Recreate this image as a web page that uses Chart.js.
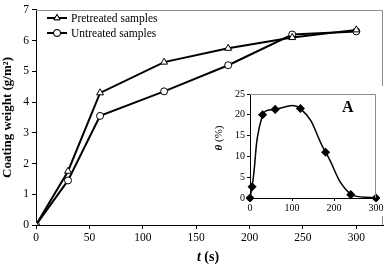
<!DOCTYPE html>
<html>
<head>
<meta charset="utf-8">
<script src="https://cdn.jsdelivr.net/npm/chart.js@4.4.1/dist/chart.umd.min.js"></script>
<style>
  body { margin: 0; background: #fff; }
  #wrap { position: relative; width: 388px; height: 265px; }
  #mainChart { position: absolute; left: 0; top: 0; }
  #insetChart { position: absolute; left: 206px; top: 86px; background: #fff; }
</style>
</head>
<body>
<div id="wrap">
  <canvas id="mainChart" width="388" height="265"></canvas>
  <canvas id="insetChart" width="182" height="130"></canvas>
</div>
<script>
// main chart data
const times = [0, 30, 60, 120, 180, 240, 300];
const pretreated = [0, 1.75, 4.3, 5.3, 5.75, 6.1, 6.35];
const untreated = [0, 1.45, 3.55, 4.35, 5.2, 6.2, 6.3];
const xTicks = [0, 50, 100, 150, 200, 250, 300];
const yTicks = [0, 1, 2, 3, 4, 5, 6, 7];

// inset data (A)
const insetTimes = [0, 5, 30, 60, 120, 180, 240, 300];
const theta = [0, 2.7, 20, 21.3, 21.5, 11, 0.8, 0];
const insetXTicks = [0, 100, 200, 300];
const insetYTicks = [0, 5, 10, 15, 20, 25];

const serif = "'Liberation Serif', 'DejaVu Serif', serif";

function toPoints(xs, ys) {
  return xs.map((x, i) => ({ x: x, y: ys[i] }));
}

// grey frame top/right, black axes left/bottom
const framePlugin = {
  id: 'frame',
  afterDraw(chart) {
    const { ctx, chartArea: a } = chart;
    ctx.save();
    ctx.strokeStyle = '#8c8c8c';
    ctx.lineWidth = 1;
    ctx.beginPath();
    ctx.moveTo(Math.round(a.left), Math.round(a.top) + 0.5);
    ctx.lineTo(Math.round(a.right) - 0.5, Math.round(a.top) + 0.5);
    ctx.lineTo(Math.round(a.right) - 0.5, Math.round(a.bottom));
    ctx.stroke();
    ctx.restore();
  }
};

const mainLegend = {
  id: 'mainLegend',
  afterDraw(chart) {
    const { ctx } = chart;
    ctx.save();
    ctx.font = '11.5px ' + serif;
    ctx.fillStyle = '#000';
    ctx.textBaseline = 'middle';
    const rows = [{ y: 18, ds: chart.data.datasets[0] }, { y: 33, ds: chart.data.datasets[1] }];
    rows.forEach(r => {
      ctx.strokeStyle = '#000';
      ctx.lineWidth = 2;
      ctx.beginPath();
      ctx.moveTo(47, r.y);
      ctx.lineTo(67, r.y);
      ctx.stroke();
      ctx.lineWidth = 1;
      ctx.fillStyle = '#fff';
      Chart.helpers.drawPoint(ctx, { pointStyle: r.ds.pointStyle, radius: 3.5, rotation: 0, borderWidth: 1 }, 57, r.y);
      ctx.fill();
      ctx.stroke();
      ctx.fillStyle = '#000';
      ctx.fillText(r.ds.label, 71, r.y + 0.5);
    });
    // x axis title: italic t + (s)
    ctx.font = 'bold italic 14px ' + serif;
    ctx.textBaseline = 'alphabetic';
    const tW = ctx.measureText('t').width;
    ctx.font = 'bold 14px ' + serif;
    const sW = ctx.measureText(' (s)').width;
    const x0 = 208 - (tW + sW) / 2;
    ctx.font = 'bold italic 14px ' + serif;
    ctx.fillText('t', x0, 261);
    ctx.font = 'bold 14px ' + serif;
    ctx.fillText(' (s)', x0 + tW, 261);
    ctx.restore();
  }
};

const insetDeco = {
  id: 'insetDeco',
  afterDraw(chart) {
    const { ctx } = chart;
    ctx.save();
    ctx.fillStyle = '#000';
    ctx.font = 'bold 16px ' + serif;
    ctx.textBaseline = 'alphabetic';
    ctx.fillText('A', 136, 26);
    // y title: italic theta + (%)
    ctx.translate(13, 52);
    ctx.rotate(-Math.PI / 2);
    ctx.font = 'bold italic 11px ' + serif;
    const thW = ctx.measureText('θ').width;
    ctx.font = '11px ' + serif;
    const pW = ctx.measureText(' (%)').width;
    const x0 = -(thW + pW) / 2;
    ctx.textBaseline = 'middle';
    ctx.font = 'bold italic 11px ' + serif;
    ctx.fillText('θ', x0, 0);
    ctx.font = '11px ' + serif;
    ctx.fillText(' (%)', x0 + thW, 0);
    ctx.restore();
  }
};

function initMainChart(target) {
  return new Chart(target, {
    type: 'line',
    data: {
      datasets: [
        {
          label: 'Pretreated samples',
          data: toPoints(times, pretreated),
          borderColor: '#000',
          borderWidth: 2,
          pointStyle: 'triangle',
          pointRadius: 4,
          pointBorderWidth: 1,
          pointBackgroundColor: '#fff',
          pointBorderColor: '#000',
          tension: 0
        },
        {
          label: 'Untreated samples',
          data: toPoints(times, untreated),
          borderColor: '#000',
          borderWidth: 2,
          pointStyle: 'circle',
          pointRadius: 3.5,
          pointBorderWidth: 1,
          pointBackgroundColor: '#fff',
          pointBorderColor: '#000',
          tension: 0
        }
      ]
    },
    options: {
      responsive: false,
      animation: false,
      layout: { padding: { top: 7, right: 3, left: 0, bottom: 0 } },
      plugins: { legend: { display: false }, tooltip: { enabled: false } },
      scales: {
        x: {
          type: 'linear',
          min: 0,
          max: 325,
          afterBuildTicks: s => { s.ticks = xTicks.map(v => ({ value: v })); },
          afterFit: s => { s.height = 40; },
          grid: { drawOnChartArea: false, tickLength: 4, color: '#000' },
          border: { color: '#000', width: 1 },
          ticks: { color: '#000', font: { family: serif, size: 11.5 }, padding: 2, maxRotation: 0 }
        },
        y: {
          min: 0,
          max: 7,
          afterBuildTicks: s => { s.ticks = yTicks.map(v => ({ value: v })); },
          afterFit: s => { s.width = 36; },
          grid: { drawOnChartArea: false, tickLength: 4, color: '#000' },
          border: { color: '#000', width: 1 },
          title: {
            display: true,
            text: 'Coating weight (g/m²)',
            color: '#000',
            font: { family: serif, size: 13, weight: 'bold' },
            padding: 0
          },
          ticks: { color: '#000', font: { family: serif, size: 11.5 }, padding: 3 }
        }
      }
    },
    plugins: [framePlugin, mainLegend]
  });
}

function initInsetChart(target) {
  return new Chart(target, {
    type: 'line',
    data: {
      datasets: [{
        label: 'θ',
        data: toPoints(insetTimes, theta),
        borderColor: '#000',
        borderWidth: 1.5,
        pointStyle: 'rectRot',
        pointRadius: 3.5,
        pointBackgroundColor: '#000',
        pointBorderColor: '#000',
        tension: 0.45,
        clip: 4
      }]
    },
    options: {
      responsive: false,
      animation: false,
      layout: { padding: { top: 7, right: 12, left: 0, bottom: 0 } },
      plugins: { legend: { display: false }, tooltip: { enabled: false } },
      scales: {
        x: {
          type: 'linear',
          min: 0,
          max: 300,
          afterBuildTicks: s => { s.ticks = insetXTicks.map(v => ({ value: v })); },
          afterFit: s => { s.height = 18; },
          grid: { drawOnChartArea: false, tickLength: 3, color: '#000' },
          border: { color: '#000', width: 1 },
          ticks: { color: '#000', font: { family: serif, size: 10 }, padding: 1, maxRotation: 0 }
        },
        y: {
          min: 0,
          max: 25,
          afterBuildTicks: s => { s.ticks = insetYTicks.map(v => ({ value: v })); },
          afterFit: s => { s.width = 44; },
          grid: { drawOnChartArea: false, tickLength: 3, color: '#000' },
          border: { color: '#000', width: 1 },
          ticks: { color: '#000', font: { family: serif, size: 10 }, padding: 2 }
        }
      }
    },
    plugins: [framePlugin, insetDeco]
  });
}

document.addEventListener('DOMContentLoaded', () => {
  initMainChart(document.querySelector('#mainChart'));
  initInsetChart(document.querySelector('#insetChart'));
});
</script>
</body>
</html>
